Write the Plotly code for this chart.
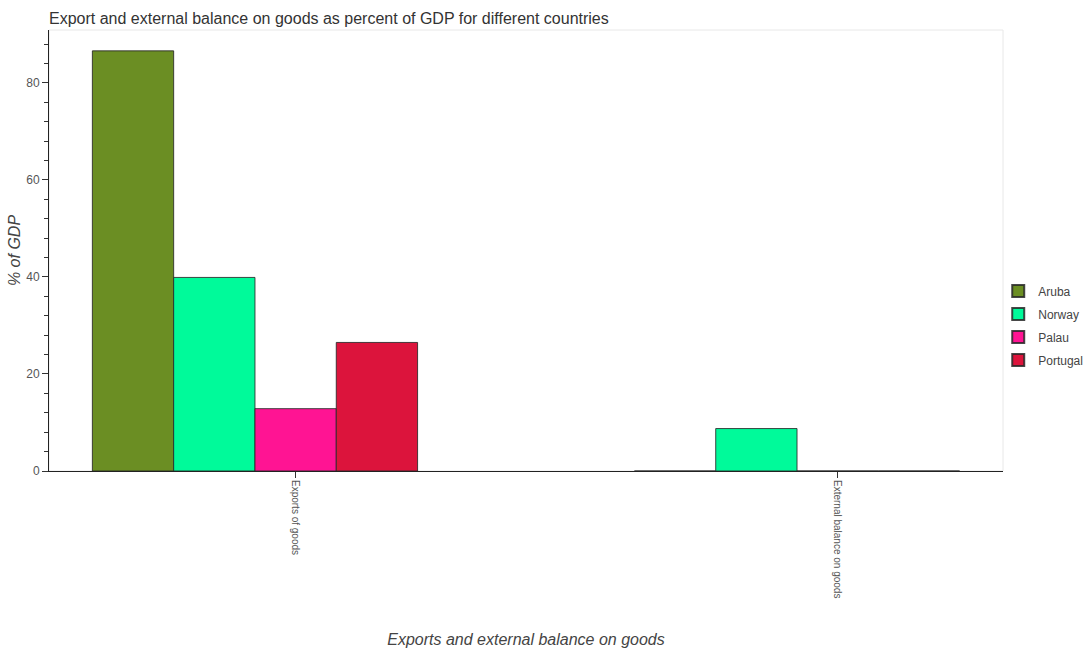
import plotly.graph_objects as go

categories = ["Exports of goods", "External balance on goods"]
countries = ["Aruba", "Norway", "Palau", "Portugal"]
aruba = [86.6, 0]
norway = [39.9, 8.75]
palau = [12.85, 0]
portugal = [26.5, 0]
colors = ["#6b8e23", "#00fa9a", "#ff1493", "#dc143c"]

series = [aruba, norway, palau, portugal]
xpos = list(range(len(categories)))

fig = go.Figure()
for name, vals, col in zip(countries, series, colors):
    fig.add_trace(go.Bar(
        x=xpos, y=vals, name=name, legendgroup=name,
        marker=dict(color=col, line=dict(color="rgba(40,40,40,0.85)", width=1)),
    ))

fig.update_layout(
    width=1089, height=650,
    barmode="group", bargap=0.4, bargroupgap=0,
    paper_bgcolor="white", plot_bgcolor="white",
    margin=dict(l=49, r=86, t=30, b=179, autoexpand=False),
    font=dict(family="Liberation Sans, Arial, sans-serif", color="#444"),
    title=dict(text="Export and external balance on goods as percent of GDP for different countries",
               x=0.045, xanchor="left", y=0.972, yanchor="middle",
               font=dict(size=16, color="#333")),
    legend=dict(x=0.995, xanchor="left", y=0.33, yanchor="middle",
                bgcolor="rgba(0,0,0,0)",
                font=dict(size=12, color="#444"), itemsizing="constant",
                traceorder="grouped", tracegroupgap=4),
    showlegend=True,
    shapes=[dict(type="rect", xref="paper", yref="paper", x0=0, x1=1, y0=0, y1=1,
                 line=dict(color="#e8e8e8", width=1), layer="below")],
)
fig.update_xaxes(
    automargin=False,
    range=[-0.38, 1.38], tickmode="array",
    tickvals=[x + 0.074 for x in xpos], ticktext=categories,
    tickangle=90, ticks="outside", ticklen=6, tickcolor="#333",
    showline=True, linecolor="#222", linewidth=1, mirror=False,
    showgrid=False, zeroline=False,
    tickfont=dict(size=10, color="#555"),
    title=dict(text="<i>Exports and external balance on goods</i>", font=dict(size=16, color="#444"), standoff=36),
)
fig.update_yaxes(
    automargin=False,
    range=[0, 90.9], tickmode="array", tickvals=[0, 20, 40, 60, 80],
    ticks="outside", ticklen=6, tickcolor="#333",
    minor=dict(tickvals=[v for v in range(4, 91, 4) if v % 20], ticks="outside", ticklen=4, tickcolor="#333"),
    showline=True, linecolor="#222", linewidth=1,
    showgrid=False, zeroline=False,
    tickfont=dict(size=12, color="#555"),
    title=dict(text="<i>% of GDP</i>", font=dict(size=16, color="#444"), standoff=1),
)
fig.write_html("out.html", config={"displayModeBar": False},
               post_script="document.body.style.margin='0';document.body.style.padding='0';")
